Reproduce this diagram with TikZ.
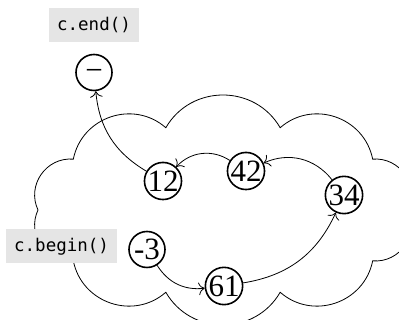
\documentclass[tikz,border=0pt]{standalone}
\usepackage{fontspec}
\setmainfont{Liberation Serif}
\setmonofont{DejaVu Sans Mono}
\usetikzlibrary{positioning,arrows.meta}
\newcommand{\elemfont}{\fontsize{31}{33}\selectfont}
\newcommand{\iterfont}{\fontsize{17.5}{20}\selectfont\ttfamily}

\begin{document}
\begin{tikzpicture}[x=1pt,y=1pt,
        elem/.style={circle,draw,line width=1.6pt,minimum size=36pt,inner sep=0pt,font=\elemfont},
        iter/.style={fill=gray!20,minimum height=34pt,inner xsep=8pt,font=\iterfont},
        link/.style={-{To[scale=1.8]},line width=0.8pt}]
    \useasboundingbox (0,0) rectangle (399,320);
    \begin{scope}[shift={(223,110)}]
        \draw[line width=0.8pt] (0:185 and 86.5)
            \foreach \a in {36,72,...,360} { to[bend right=60,looseness=1.13] (\a:185 and 86.5) };
    \end{scope}
    \node[elem,text height=15.5pt,text depth=0pt] (nend) at (94,247.5) {−};
    \node[iter,above=11pt of nend] (lend) {c.end()};
    \node[elem] (n12) at (163,139) {12};
    \node[elem] (n42) at (246,149) {42};
    \node[elem] (n34) at (344,125) {34};
    \node[elem] (nm3) at (147,70.5) {-3};
    \node[elem] (n61) at (224,34) {61};
    \node[iter,left=11pt of nm3,yshift=3pt] (lbegin) {c.begin()};
    \draw[link] (nm3) to[bend right=32] (n61);
    \draw[link] (n61) to[bend right=28] (n34);
    \draw[link] (n34) to[bend right=38] (n42);
    \draw[link] (n42) to[bend right=40] (n12);
    \draw[link] (n12) to[bend left=27] (nend);
\end{tikzpicture}
\end{document}
